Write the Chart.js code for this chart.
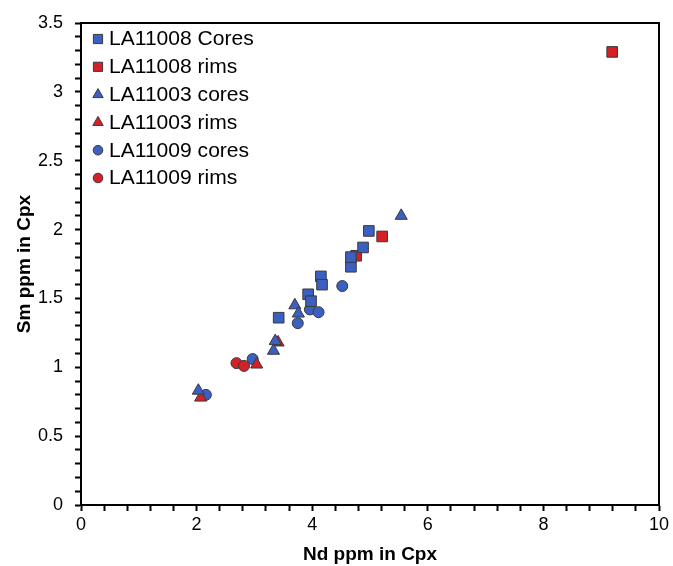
<!DOCTYPE html>
<html lang="en">
<head>
  <meta charset="UTF-8">
  <title>Sm vs Nd in Cpx</title>
  <script src="https://cdn.jsdelivr.net/npm/chart.js"></script>
  <style>
    html, body { margin: 0; padding: 0; background: #fff; }
    #wrap { width: 673px; height: 566px; }
  </style>
</head>
<body>
  <div id="wrap"><canvas id="smChart" width="673" height="566"></canvas></div>

  <script>
    // values (Nd ppm, Sm ppm)
    const coresSqNd = [3.42, 3.93, 3.98, 4.15, 4.17, 4.67, 4.67, 4.88, 4.98];
    const coresSqSm = [1.36, 1.53, 1.48, 1.66, 1.60, 1.73, 1.80, 1.87, 1.99];
    const rimsSqNd = [4.76, 5.21, 9.19];
    const rimsSqSm = [1.81, 1.95, 3.29];
    const coresTriNd = [5.54, 3.70, 3.76, 3.36, 3.33, 2.03];
    const coresTriSm = [2.10, 1.45, 1.39, 1.19, 1.12, 0.83];
    const rimsTriNd = [3.41, 3.04, 2.07];
    const rimsTriSm = [1.18, 1.02, 0.78];
    const coresCircNd = [4.52, 3.96, 4.11, 3.75, 2.97, 2.16];
    const coresCircSm = [1.59, 1.42, 1.40, 1.32, 1.06, 0.80];
    const rimsCircNd = [2.69, 2.82];
    const rimsCircSm = [1.03, 1.01];

    const seriesNames = ['LA11008 Cores', 'LA11008 rims', 'LA11003 cores', 'LA11003 rims', 'LA11009 cores', 'LA11009 rims'];

    const blue = '#3c5fc2';
    const red = '#d42027';

    const toPts = (xs, ys) => xs.map((x, i) => ({ x: x, y: ys[i] }));

    const mk = (label, xs, ys, color, style, r) => ({
      label,
      data: toPts(xs, ys),
      backgroundColor: color,
      borderColor: '#3a3a3a',
      borderWidth: 1,
      pointStyle: style,
      pointRadius: r,
      pointHoverRadius: r
    });

    const datasets = [
      mk(seriesNames[0], coresSqNd, coresSqSm, blue, 'rect', 7.5),
      mk(seriesNames[1], rimsSqNd, rimsSqSm, red, 'rect', 7.5),
      mk(seriesNames[2], coresTriNd, coresTriSm, blue, 'triangle', 7),
      mk(seriesNames[3], rimsTriNd, rimsTriSm, red, 'triangle', 7),
      mk(seriesNames[4], coresCircNd, coresCircSm, blue, 'circle', 5.5),
      mk(seriesNames[5], rimsCircNd, rimsCircSm, red, 'circle', 5.5)
    ];

    // closes the box on top and right
    const frame = {
      id: 'frame',
      afterDraw(chart) {
        const a = chart.chartArea;
        const c = chart.ctx;
        c.save();
        c.strokeStyle = '#000';
        c.lineWidth = 2;
        c.beginPath();
        c.moveTo(a.left, a.top);
        c.lineTo(a.right, a.top);
        c.lineTo(a.right, a.bottom);
        c.stroke();
        c.restore();
      }
    };

    // legend inside the plot, top-left, with small markers
    const boxLegend = {
      id: 'boxLegend',
      afterDraw(chart) {
        const a = chart.chartArea;
        const c = chart.ctx;
        const legendRadius = { rect: 6.5, triangle: 6, circle: 4.8 };
        c.save();
        c.font = '19.5px "Liberation Sans", Arial, sans-serif';
        c.textBaseline = 'middle';
        c.textAlign = 'left';
        chart.data.datasets.forEach((ds, i) => {
          const mx = a.left + 17;
          const my = a.top + 16 + i * 27.8;
          c.fillStyle = ds.backgroundColor;
          c.strokeStyle = ds.borderColor;
          c.lineWidth = 1;
          Chart.helpers.drawPoint(c, {
            pointStyle: ds.pointStyle,
            radius: legendRadius[ds.pointStyle],
            rotation: 0,
            borderWidth: 1
          }, mx, my);
          // the reference text is a little wider than plain Arial
          c.save();
          c.translate(a.left + 28, my + 1);
          c.scale(1.08, 1);
          c.fillStyle = '#000';
          c.fillText(ds.label, 0, 0);
          c.restore();
        });
        c.restore();
      }
    };

    Chart.defaults.font.family = '"Liberation Sans", Arial, sans-serif';
    Chart.defaults.color = '#000';

    new Chart(document.getElementById('smChart'), {
      type: 'scatter',
      data: { datasets },
      options: {
        responsive: false,
        animation: false,
        layout: { padding: { left: 0, top: 23, right: 14, bottom: 0 } },
        scales: {
          x: {
            type: 'linear',
            min: 0, max: 10,
            afterFit: s => { s.height = 61; },
            ticks: {
              stepSize: 0.4,
              autoSkip: false,
              maxRotation: 0,
              padding: 3,
              font: { size: 18 },
              callback: v => (Math.round(v * 10) % 20 === 0 ? String(Math.round(v)) : '')
            },
            grid: { drawOnChartArea: false, drawTicks: true, tickLength: 6, tickColor: '#000', tickWidth: 2 },
            border: { color: '#000', width: 2 },
            title: { display: true, text: 'Nd ppm in Cpx', font: { size: 19, weight: 'bold' }, padding: { top: 0, bottom: 0 } }
          },
          y: {
            type: 'linear',
            min: 0, max: 3.5,
            afterFit: s => { s.width = 81; },
            ticks: {
              stepSize: 0.1,
              autoSkip: false,
              padding: 12,
              font: { size: 18 },
              callback: v => {
                const t = Math.round(v * 10);
                return t % 5 === 0 ? String(t / 10) : '';
              }
            },
            grid: { drawOnChartArea: false, drawTicks: true, tickLength: 6, tickColor: '#000', tickWidth: 2 },
            border: { color: '#000', width: 2 },
            title: { display: true, text: 'Sm ppm in Cpx', font: { size: 19, weight: 'bold' }, padding: { top: 13, bottom: 0 } }
          }
        },
        plugins: {
          legend: { display: false },
          tooltip: { enabled: false }
        }
      },
      plugins: [frame, boxLegend]
    });
  </script>
</body>
</html>
